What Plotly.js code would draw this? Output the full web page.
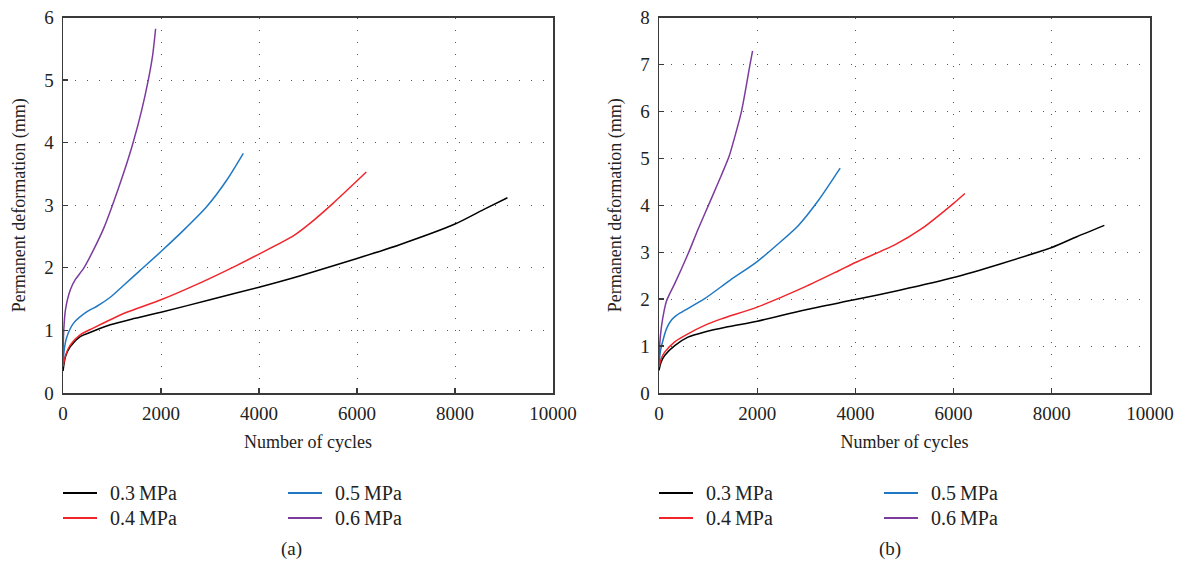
<!DOCTYPE html>
<html>
<head>
<meta charset="utf-8">
<script src="https://cdn.plot.ly/plotly-3.0.1.min.js"></script>
<style>html,body{margin:0;padding:0;background:#fff}#chart{width:1182px;height:567px}</style>
</head>
<body>
<div id="chart"></div>
<script>
// ----- Data -----
const seriesNames = ["0.3\u2009MPa", "0.4\u2009MPa", "0.5\u2009MPa", "0.6\u2009MPa"];
const xTickVals = [0, 2000, 4000, 6000, 8000, 10000];
const xTickText = ["0", "2000", "4000", "6000", "8000", "10000"];
const panelLabels = ["(a)", "(b)"];

// Panel (a)
const a03_N = [0, 50, 150, 350, 625, 965, 1400, 2000, 3000, 4000, 4830, 6000, 6870, 8000, 8580, 9070];
const a03_D = [0.35, 0.58, 0.74, 0.90, 0.99, 1.09, 1.18, 1.29, 1.49, 1.69, 1.87, 2.15, 2.37, 2.70, 2.93, 3.12];
const a04_N = [0, 50, 150, 350, 625, 965, 1300, 2000, 2800, 3550, 4000, 4700, 5040, 5510, 6190];
const a04_D = [0.42, 0.60, 0.77, 0.93, 1.04, 1.17, 1.29, 1.49, 1.76, 2.04, 2.22, 2.51, 2.71, 3.03, 3.53];
const a05_N = [0, 30, 80, 220, 490, 700, 965, 1250, 1575, 2000, 2525, 2935, 3340, 3680];
const a05_D = [0.48, 0.72, 0.90, 1.12, 1.30, 1.39, 1.53, 1.73, 1.96, 2.26, 2.65, 2.98, 3.40, 3.83];
const a06_N = [0, 15, 50, 150, 250, 420, 625, 830, 1000, 1235, 1430, 1600, 1740, 1830, 1890];
const a06_D = [0.59, 1.00, 1.33, 1.65, 1.81, 1.99, 2.29, 2.63, 2.98, 3.51, 4.00, 4.50, 5.00, 5.40, 5.82];

// Panel (b)
const b03_N = [0, 40, 115, 320, 590, 930, 1400, 2000, 2970, 4000, 4900, 6000, 6950, 8000, 8510, 9070];
const b03_D = [0.48, 0.65, 0.80, 1.01, 1.19, 1.30, 1.41, 1.53, 1.77, 1.99, 2.19, 2.46, 2.75, 3.10, 3.33, 3.57];
const b04_N = [0, 40, 115, 320, 590, 930, 1270, 2000, 2970, 3650, 4000, 4810, 5350, 6000, 6230];
const b04_D = [0.55, 0.72, 0.87, 1.09, 1.26, 1.44, 1.58, 1.83, 2.26, 2.60, 2.78, 3.16, 3.50, 4.04, 4.25];
const b05_N = [0, 30, 80, 150, 250, 350, 455, 930, 1445, 2000, 2430, 2840, 3245, 3690];
const b05_D = [0.62, 0.90, 1.12, 1.36, 1.55, 1.65, 1.72, 2.01, 2.40, 2.80, 3.18, 3.57, 4.10, 4.79];
const b06_N = [0, 15, 48, 100, 150, 230, 320, 590, 800, 1090, 1270, 1430, 1560, 1680, 1770, 1850, 1906];
const b06_D = [0.70, 1.05, 1.40, 1.73, 1.95, 2.14, 2.33, 2.96, 3.50, 4.20, 4.64, 5.05, 5.52, 6.00, 6.50, 6.98, 7.29];

// ----- Styling -----
const colors = ["#000000", "#f0262b", "#1f78c4", "#7b3c9e"];
const FONT = "Liberation Serif, Times New Roman, serif";
const TXT = "#222";
const W = 1182, H = 567;
const px = v => v / W, py = v => 1 - v / H;

function tr(x, y, idx, xa, ya) {
  return {
    x: x, y: y, type: "scatter", mode: "lines", name: seriesNames[idx],
    line: {color: colors[idx], width: 1.5, shape: "spline", smoothing: 0.7},
    xaxis: xa, yaxis: ya, showlegend: false
  };
}

const data = [
  tr(a03_N, a03_D, 0, "x", "y"),
  tr(a04_N, a04_D, 1, "x", "y"),
  tr(a05_N, a05_D, 2, "x", "y"),
  tr(a06_N, a06_D, 3, "x", "y"),
  tr(b03_N, b03_D, 0, "x2", "y2"),
  tr(b04_N, b04_D, 1, "x2", "y2"),
  tr(b05_N, b05_D, 2, "x2", "y2"),
  tr(b06_N, b06_D, 3, "x2", "y2")
];

const axisCommon = {
  showline: true, linecolor: "#3a3a3a", linewidth: 1.5, mirror: true,
  ticks: "inside", ticklen: 5, tickwidth: 1.3, tickcolor: "#3a3a3a",
  showgrid: true, gridcolor: "#555", gridwidth: 1, griddash: "1px,11px",
  zeroline: false, fixedrange: true, automargin: false,
  tickfont: {family: FONT, size: 19, color: TXT}
};

const yTop = py(17.5), yBot = py(393);

function xa(dom, anchor) {
  return Object.assign({}, axisCommon, {
    domain: dom, range: [0, 10000], tickvals: xTickVals, ticktext: xTickText,
    anchor: anchor, ticklabelstandoff: 3,
    title: {text: "Number of cycles", font: {family: FONT, size: 18, color: TXT}, standoff: 12}
  });
}
function ya(rng, anchor) {
  return Object.assign({}, axisCommon, {
    domain: [yBot, yTop], range: rng, dtick: 1, anchor: anchor, ticklabelstandoff: 4,
    title: {text: "Permanent deformation (mm)", font: {family: FONT, size: 18, color: TXT}, standoff: 14}
  });
}

// Legend drawn below each panel: two columns (0.3/0.4 left, 0.5/0.6 right)
const shapes = [], annotations = [];
const panelLeft = [63, 659];
const colOffset = [0, 0, 225, 225];   // per series index
const rowY = [493, 518, 493, 518];    // per series index
panelLeft.forEach((left, p) => {
  seriesNames.forEach((nm, i) => {
    const x0 = left + colOffset[i];
    shapes.push({type: "line", xref: "paper", yref: "paper",
      x0: px(x0), x1: px(x0 + 34), y0: py(rowY[i]), y1: py(rowY[i]),
      line: {color: colors[i], width: 1.8}});
    annotations.push({text: nm, xref: "paper", yref: "paper", x: px(x0 + 45), y: py(rowY[i]),
      xanchor: "left", yanchor: "middle", showarrow: false,
      font: {family: FONT, size: 20, color: TXT}});
  });
});
annotations.push({text: panelLabels[0], x: px(291), y: py(549), xref: "paper", yref: "paper",
  xanchor: "center", yanchor: "middle", showarrow: false, font: {family: FONT, size: 19, color: TXT}});
annotations.push({text: panelLabels[1], x: px(890), y: py(549), xref: "paper", yref: "paper",
  xanchor: "center", yanchor: "middle", showarrow: false, font: {family: FONT, size: 19, color: TXT}});

const layout = {
  width: W, height: H,
  margin: {l: 0, r: 0, t: 0, b: 0},
  paper_bgcolor: "#fff", plot_bgcolor: "#fff",
  showlegend: false,
  xaxis: xa([px(63), px(553)], "y"),
  yaxis: ya([0, 6], "x"),
  xaxis2: xa([px(659), px(1150)], "y2"),
  yaxis2: ya([0, 8], "x2"),
  shapes: shapes,
  annotations: annotations
};

Plotly.newPlot("chart", data, layout, {displayModeBar: false, staticPlot: true});
</script>
</body>
</html>
